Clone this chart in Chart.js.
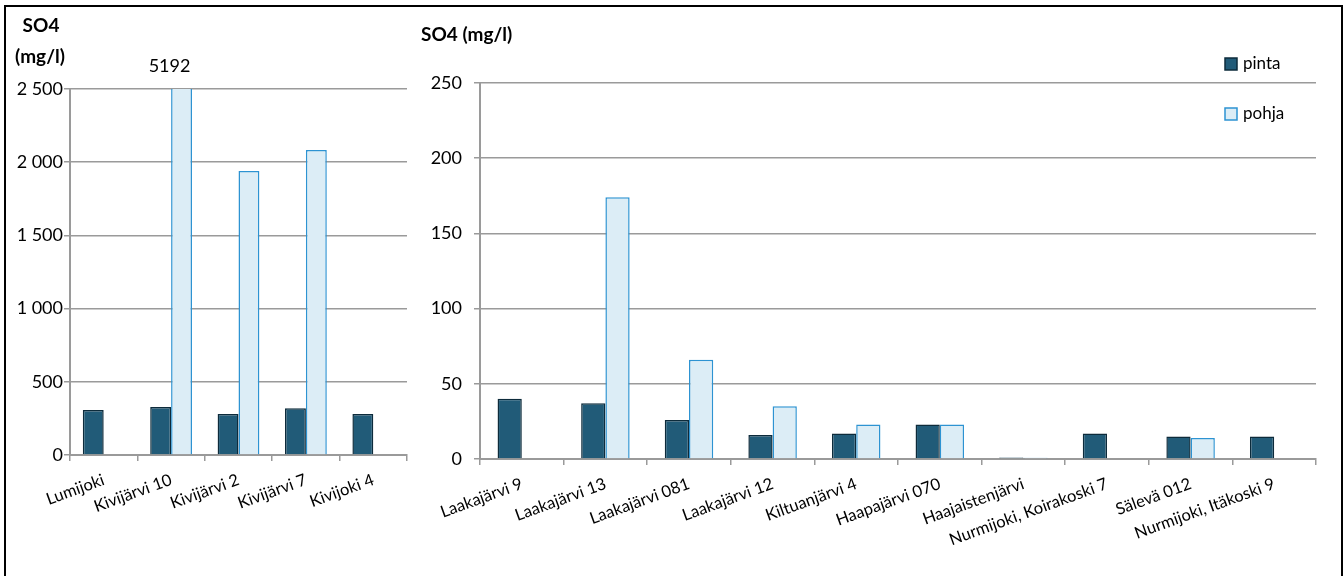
<!DOCTYPE html>
<html>
<head>
<meta charset="utf-8">
<script src="https://cdn.jsdelivr.net/npm/chart.js@4.4.1/dist/chart.umd.min.js"></script>
<style>
  body { margin: 0; background: #fff; width: 1344px; height: 576px; overflow: hidden; position: relative; }
  #frame { position: absolute; left: 4px; top: 5px; width: 1339px; height: 620px; border: 2px solid #000; box-sizing: border-box; pointer-events: none; }
  #leftWrap { position: absolute; left: 0; top: 0; width: 412px; height: 576px; }
  #rightWrap { position: absolute; left: 412px; top: 0; width: 932px; height: 576px; }
</style>
</head>
<body>
<div id="leftWrap"><canvas id="leftChart" width="412" height="576"></canvas></div>
<div id="rightWrap"><canvas id="rightChart" width="932" height="576"></canvas></div>
<div id="frame"></div>
<script>
// SO4 data, left panel (high values)
const leftSites = ['Lumijoki', 'Kivijärvi 10', 'Kivijärvi 2', 'Kivijärvi 7', 'Kivijoki 4'];
const leftPinta = [307, 328, 280, 319, 280];
const leftPohja = [null, 5192, 1940, 2083, null];
const leftMax = 2500;
const leftStep = 500;

// SO4 data, right panel
const rightSites = ['Laakajärvi 9', 'Laakajärvi 13', 'Laakajärvi 081', 'Laakajärvi 12', 'Kiltuanjärvi 4',
  'Haapajärvi 070', 'Haajaistenjärvi', 'Nurmijoki, Koirakoski 7', 'Sälevä 012', 'Nurmijoki, Itäkoski 9'];
const rightPinta = [40, 37, 26, 16, 17, 23, 1, 17, 15, 15];
const rightPohja = [null, 174, 66, 35, 23, 23, 0.8, null, 14, null];
const rightMax = 250;
const rightStep = 50;

const seriesNames = ['pinta', 'pohja'];

const PINTA_FILL = '#215b78';
const PINTA_EDGE = '#0d2b3b';
const POHJA_FILL = '#dcedf6';
const POHJA_EDGE = '#2d93d2';
const GRID = '#9a9a9a';
const FONT = 'Lato';

const fmt = v => String(v).replace(/\B(?=(\d{3})+(?!\d))/g, ' ');

// free text (axis captions)
const textPlugin = {
  id: 'texts',
  afterDraw(chart, args, opts) {
    const ctx = chart.ctx;
    ctx.save();
    (opts.items || []).forEach(t => {
      ctx.font = t.font;
      ctx.fillStyle = '#000';
      ctx.textAlign = t.align || 'left';
      ctx.textBaseline = 'middle';
      ctx.fillText(t.text, t.x, t.y);
    });
    ctx.restore();
  }
};

// value label for bars cut off at the top of the axis
const overflowPlugin = {
  id: 'overflow',
  afterDatasetsDraw(chart) {
    const y = chart.scales.y;
    const ctx = chart.ctx;
    ctx.save();
    ctx.font = '18px ' + FONT;
    ctx.fillStyle = '#000';
    ctx.textAlign = 'center';
    ctx.textBaseline = 'middle';
    chart.data.datasets.forEach((ds, i) => {
      chart.getDatasetMeta(i).data.forEach((bar, j) => {
        if (ds.data[j] > y.max) ctx.fillText(String(ds.data[j]), bar.x - 12, chart.chartArea.top - 23);
      });
    });
    ctx.restore();
  }
};

// legend drawn inside the plot, top right
const sideLegend = {
  id: 'sideLegend',
  afterDraw(chart, args, opts) {
    if (!opts.show) return;
    const ctx = chart.ctx;
    ctx.save();
    chart.data.datasets.forEach((ds, i) => {
      const y = chart.chartArea.top + opts.dy + i * opts.gap;
      const x = chart.chartArea.right - opts.dx;
      ctx.fillStyle = ds.backgroundColor;
      ctx.fillRect(x, y - 6, 12, 12);
      ctx.strokeStyle = ds.borderColor;
      ctx.lineWidth = 1.5;
      ctx.strokeRect(x, y - 6, 12, 12);
      ctx.fillStyle = '#000';
      ctx.font = '17px ' + FONT;
      ctx.textAlign = 'left';
      ctx.textBaseline = 'middle';
      ctx.fillText(ds.label, x + 18, y);
    });
    ctx.restore();
  }
};

function makeChart(id, labels, pinta, pohja, cfg) {
  return new Chart(document.getElementById(id), {
    type: 'bar',
    data: {
      labels: labels,
      datasets: [
        { label: seriesNames[0], data: pinta, backgroundColor: PINTA_FILL, borderColor: PINTA_EDGE, borderWidth: 1.5 },
        { label: seriesNames[1], data: pohja, backgroundColor: POHJA_FILL, borderColor: POHJA_EDGE, borderWidth: 1.5 }
      ]
    },
    options: {
      responsive: false,
      animation: false,
      events: [],
      datasets: { bar: { barPercentage: 1, categoryPercentage: cfg.cat } },
      layout: { padding: { top: cfg.top, right: cfg.right, left: 0, bottom: 0 } },
      plugins: {
        legend: { display: false },
        tooltip: { enabled: false },
        texts: { items: cfg.texts },
        sideLegend: cfg.legend
      },
      scales: {
        x: {
          grid: { display: true, drawOnChartArea: false, drawTicks: true, tickLength: 6, color: GRID, lineWidth: 1.5 },
          border: { color: GRID, width: 2 },
          ticks: { autoSkip: false, minRotation: 20, maxRotation: 20, padding: 9, color: '#000', font: { family: FONT, size: 16.5 } },
          afterFit: s => { s.height = cfg.xHeight; }
        },
        y: {
          min: 0,
          max: cfg.max,
          ticks: { stepSize: cfg.step, padding: cfg.yPad, color: '#000', font: { family: FONT, size: 18 }, callback: v => fmt(v) },
          grid: { color: GRID, lineWidth: 1.5, tickLength: 6 },
          border: { color: GRID, width: 2 },
          afterFit: s => { s.width = cfg.yWidth; }
        }
      }
    },
    plugins: [textPlugin, overflowPlugin, sideLegend]
  });
}

makeChart('leftChart', leftSites, leftPinta, leftPohja, {
  cat: 0.62, top: 89, right: 5, xHeight: 121, yWidth: 70, yPad: 1,
  max: leftMax, step: leftStep,
  legend: { show: false },
  texts: [
    { text: 'SO4', x: 41, y: 26, align: 'center', font: 'bold 19px ' + FONT },
    { text: '(mg/l)', x: 40, y: 57, align: 'center', font: 'bold 19px ' + FONT }
  ]
});

makeChart('rightChart', rightSites, rightPinta, rightPohja, {
  cat: 0.58, top: 83, right: 28, xHeight: 117, yWidth: 68, yPad: 12,
  max: rightMax, step: rightStep,
  legend: { show: true, dx: 91, dy: -19, gap: 50 },
  texts: [
    { text: 'SO4 (mg/l)', x: 9, y: 35, align: 'left', font: 'bold 19px ' + FONT }
  ]
});
</script>
</body>
</html>
